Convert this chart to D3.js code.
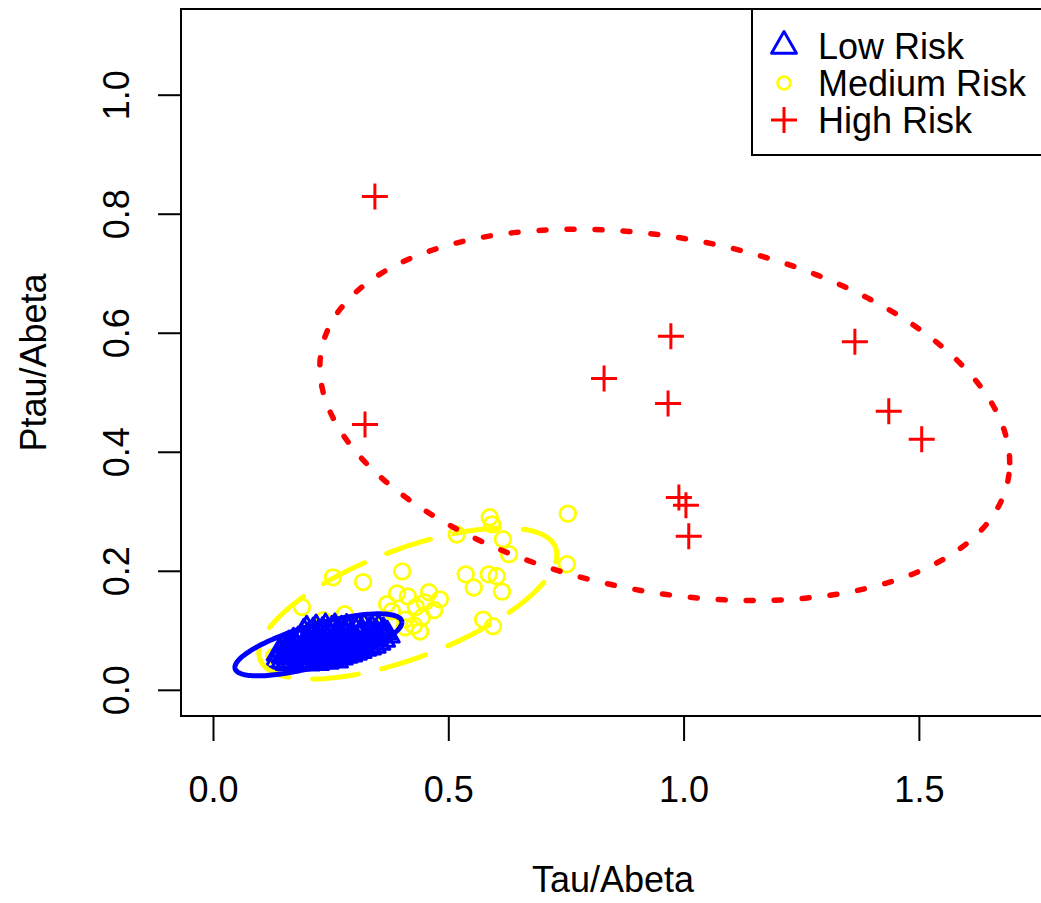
<!DOCTYPE html>
<html>
<head>
<meta charset="utf-8">
<script src="https://cdn.jsdelivr.net/npm/d3@7/dist/d3.min.js"></script>
<style>
  html, body { margin: 0; padding: 0; background: #fff; }
  svg { display: block; }
  text { font-family: "Liberation Sans", Arial, Helvetica, sans-serif; fill: #000; }
</style>
</head>
<body>
<svg id="chart" width="1041" height="903"></svg>
<script>
// ---- Data (Tau/Abeta vs Ptau/Abeta by risk group) ----
const xLim = [0, 1.7];
const yLim = [0, 1.1];
const xTicks = [0, 0.5, 1.0, 1.5];
const yTicks = [0, 0.2, 0.4, 0.6, 0.8, 1.0];
const groupNames = ["Low Risk", "Medium Risk", "High Risk"];
const groupColors = ["#0000ff", "#ffff00", "#ff0000"];

const lowRisk = [
  [0.138,0.050],[0.141,0.062],
  [0.150,0.048],[0.152,0.058],[0.149,0.068],
  [0.160,0.045],[0.162,0.055],[0.158,0.065],[0.161,0.075],
  [0.170,0.046],[0.172,0.056],[0.168,0.068],[0.171,0.080],
  [0.180,0.045],[0.183,0.058],[0.178,0.070],[0.181,0.082],
  [0.190,0.047],[0.188,0.060],[0.192,0.072],[0.189,0.085],[0.193,0.095],
  [0.200,0.045],[0.203,0.055],[0.198,0.066],[0.201,0.078],[0.204,0.090],[0.199,0.100],
  [0.210,0.048],[0.208,0.060],[0.212,0.072],[0.209,0.085],[0.213,0.097],
  [0.220,0.046],[0.223,0.057],[0.218,0.068],[0.221,0.080],[0.224,0.092],[0.219,0.102],
  [0.230,0.050],[0.228,0.062],[0.232,0.075],[0.229,0.087],[0.233,0.098],
  [0.240,0.048],[0.243,0.058],[0.238,0.070],[0.241,0.082],[0.244,0.094],[0.239,0.104],
  [0.250,0.052],[0.248,0.065],[0.252,0.077],[0.249,0.088],[0.253,0.100],
  [0.260,0.050],[0.263,0.060],[0.258,0.072],[0.261,0.084],[0.264,0.095],[0.259,0.104],
  [0.270,0.055],[0.268,0.067],[0.272,0.079],[0.269,0.090],[0.273,0.100],
  [0.280,0.058],[0.283,0.070],[0.278,0.082],[0.281,0.094],[0.284,0.103],
  [0.290,0.060],[0.288,0.073],[0.292,0.085],[0.289,0.097],
  [0.300,0.063],[0.303,0.075],[0.298,0.088],[0.301,0.100],
  [0.310,0.066],[0.308,0.078],[0.312,0.090],[0.309,0.102],
  [0.320,0.070],[0.323,0.082],[0.318,0.094],[0.321,0.104],
  [0.330,0.072],[0.328,0.085],[0.332,0.097],
  [0.340,0.075],[0.343,0.088],[0.338,0.100],
  [0.350,0.080],[0.348,0.092],[0.352,0.102],
  [0.360,0.085],[0.362,0.097],
  [0.370,0.092]
];

const mediumRisk = [
  [0.130,0.056],[0.189,0.139],[0.255,0.189],[0.319,0.181],[0.402,0.199],[0.234,0.117],[0.280,0.127],
  [0.370,0.144],[0.391,0.162],[0.414,0.157],[0.459,0.164],[0.450,0.147],[0.470,0.134],[0.444,0.122],
  [0.408,0.118],[0.427,0.108],[0.440,0.098],[0.408,0.105],[0.518,0.261],[0.588,0.290],[0.593,0.278],
  [0.616,0.253],[0.629,0.228],[0.754,0.296],[0.752,0.211],[0.537,0.194],[0.554,0.172],[0.586,0.194],
  [0.603,0.191],[0.614,0.165],[0.574,0.118],[0.595,0.107],[0.334,0.115],[0.302,0.105],[0.380,0.132],
  [0.482,0.152],[0.431,0.139]
];

const highRisk = [
  [0.344,0.829],[0.323,0.446],[0.831,0.523],[0.973,0.594],[0.967,0.481],[0.990,0.323],
  [1.005,0.310],[1.011,0.258],[1.364,0.585],[1.436,0.468],[1.506,0.421]
];

// Group ellipses: centre, half-extent in x and y, and x-y correlation
const ellipseLow    = { cx: 0.224, cy: 0.0756, sx: 0.1774, sy: 0.0521, rho: 0.725 };
const ellipseMedium = { cx: 0.414, cy: 0.145,  sx: 0.3166, sy: 0.127,  rho: 0.648 };
const ellipseHigh   = { cx: 0.960, cy: 0.462,  sx: 0.733,  sy: 0.312,  rho: -0.258 };

// ---- Layout ----
const svg = d3.select("#chart");
const plot = { left: 181, right: 1045, top: 9, bottom: 716 };
const padX = (xLim[1] - xLim[0]) * 0.04;
const padY = (yLim[1] - yLim[0]) * 0.04;

const x = d3.scaleLinear().domain([xLim[0] - padX, xLim[1] + padX]).range([plot.left, plot.right]);
const y = d3.scaleLinear().domain([yLim[0] - padY, yLim[1] + padY]).range([plot.bottom, plot.top]);

const fmt = d3.format(".1f");

// Clip marks to the plotting region
svg.append("defs").append("clipPath").attr("id", "plotClip")
  .append("rect")
  .attr("x", plot.left).attr("y", plot.top)
  .attr("width", plot.right - plot.left).attr("height", plot.bottom - plot.top);

const marks = svg.append("g").attr("clip-path", "url(#plotClip)");

// Medium risk: open circles
marks.append("g").selectAll("circle").data(mediumRisk).join("circle")
  .attr("cx", d => x(d[0])).attr("cy", d => y(d[1])).attr("r", 7.8)
  .attr("fill", "none").attr("stroke", groupColors[1]).attr("stroke-width", 2.8);

// Low risk: open triangles
const triS = 9;
const triPath = `M0,${-1.555 * triS}L${1.347 * triS},${0.778 * triS}L${-1.347 * triS},${0.778 * triS}Z`;
marks.append("g").selectAll("path").data(lowRisk).join("path")
  .attr("transform", d => `translate(${x(d[0])},${y(d[1])})`)
  .attr("d", triPath)
  .attr("fill", "none").attr("stroke", groupColors[0]).attr("stroke-width", 3)
  .attr("stroke-linejoin", "round");

// High risk: plus signs
const plusPath = "M-13,0H13M0,-13V13";
marks.append("g").selectAll("path").data(highRisk).join("path")
  .attr("transform", d => `translate(${x(d[0])},${y(d[1])})`)
  .attr("d", plusPath)
  .attr("fill", "none").attr("stroke", groupColors[2]).attr("stroke-width", 3);

// Ellipse outline from centre, extents and correlation, in data units
function ellipsePoints(e) {
  const s = Math.sqrt(1 - e.rho * e.rho);
  return d3.range(0, 361, 2).map(deg => {
    const t = deg * Math.PI / 180;
    return [e.cx + e.sx * Math.cos(t), e.cy + e.sy * (e.rho * Math.cos(t) + s * Math.sin(t))];
  });
}
const ellLine = d3.line().x(d => x(d[0])).y(d => y(d[1]));

marks.append("path").datum(ellipsePoints(ellipseMedium))
  .attr("d", ellLine).attr("fill", "none")
  .attr("stroke", groupColors[1]).attr("stroke-width", 5)
  .attr("stroke-dasharray", "46 24").attr("stroke-linecap", "round");

marks.append("path").datum(ellipsePoints(ellipseHigh))
  .attr("d", ellLine).attr("fill", "none")
  .attr("stroke", groupColors[2]).attr("stroke-width", 5.5)
  .attr("stroke-dasharray", "7 21").attr("stroke-linecap", "round");

marks.append("path").datum(ellipsePoints(ellipseLow))
  .attr("d", ellLine).attr("fill", "none")
  .attr("stroke", groupColors[0]).attr("stroke-width", 5);

// ---- Axes ----
const xAxis = svg.append("g")
  .attr("transform", `translate(0,${plot.bottom})`)
  .call(d3.axisBottom(x).tickValues(xTicks).tickSize(25).tickPadding(35).tickFormat(fmt));
xAxis.select(".domain").remove();
xAxis.selectAll(".tick line").attr("stroke", "#000").attr("stroke-width", 2);
xAxis.selectAll(".tick text").attr("font-size", 36).attr("fill", "#000")
  .style("font-family", "'Liberation Sans', Arial, Helvetica, sans-serif");

const yAxis = svg.append("g")
  .attr("transform", `translate(${plot.left},0)`)
  .call(d3.axisLeft(y).tickValues(yTicks).tickSize(23).tickFormat(fmt));
yAxis.select(".domain").remove();
yAxis.selectAll(".tick line").attr("stroke", "#000").attr("stroke-width", 2);
yAxis.selectAll(".tick text")
  .attr("dy", "0.36em")
  .attr("transform", "rotate(-90)")
  .attr("y", -65)
  .attr("x", 0)
  .attr("text-anchor", "middle")
  .attr("font-size", 36).attr("fill", "#000")
  .style("font-family", "'Liberation Sans', Arial, Helvetica, sans-serif");

// Plot frame
svg.append("rect")
  .attr("x", plot.left).attr("y", plot.top)
  .attr("width", plot.right - plot.left).attr("height", plot.bottom - plot.top)
  .attr("fill", "none").attr("stroke", "#000").attr("stroke-width", 2);

// Axis titles
svg.append("text")
  .attr("x", (plot.left + plot.right) / 2).attr("y", 892)
  .attr("text-anchor", "middle").attr("font-size", 36)
  .text("Tau/Abeta");

svg.append("text")
  .attr("transform", `translate(46,${(plot.top + plot.bottom) / 2}) rotate(-90)`)
  .attr("text-anchor", "middle").attr("font-size", 36)
  .text("Ptau/Abeta");

// ---- Legend ----
const legend = svg.append("g");
legend.append("rect")
  .attr("x", 752).attr("y", plot.top)
  .attr("width", plot.right - 752).attr("height", 155 - plot.top)
  .attr("fill", "#fff").attr("stroke", "#000").attr("stroke-width", 2);

const rows = legend.selectAll("g.row").data(groupNames).join("g")
  .attr("class", "row")
  .attr("transform", (d, i) => `translate(784,${46 + i * 37})`);

rows.each(function(d, i) {
  const g = d3.select(this);
  if (i === 0) {
    g.append("path").attr("d", triPath).attr("transform", "scale(1.03)")
      .attr("fill", "none").attr("stroke", groupColors[0]).attr("stroke-width", 2.8)
      .attr("stroke-linejoin", "round");
  } else if (i === 1) {
    g.append("circle").attr("r", 6.4)
      .attr("fill", "none").attr("stroke", groupColors[1]).attr("stroke-width", 2.7);
  } else {
    g.append("path").attr("d", plusPath)
      .attr("fill", "none").attr("stroke", groupColors[2]).attr("stroke-width", 3);
  }
  g.append("text").attr("x", 34).attr("dy", "0.36em")
    .attr("font-size", 36).text(d);
});
</script>
</body>
</html>
